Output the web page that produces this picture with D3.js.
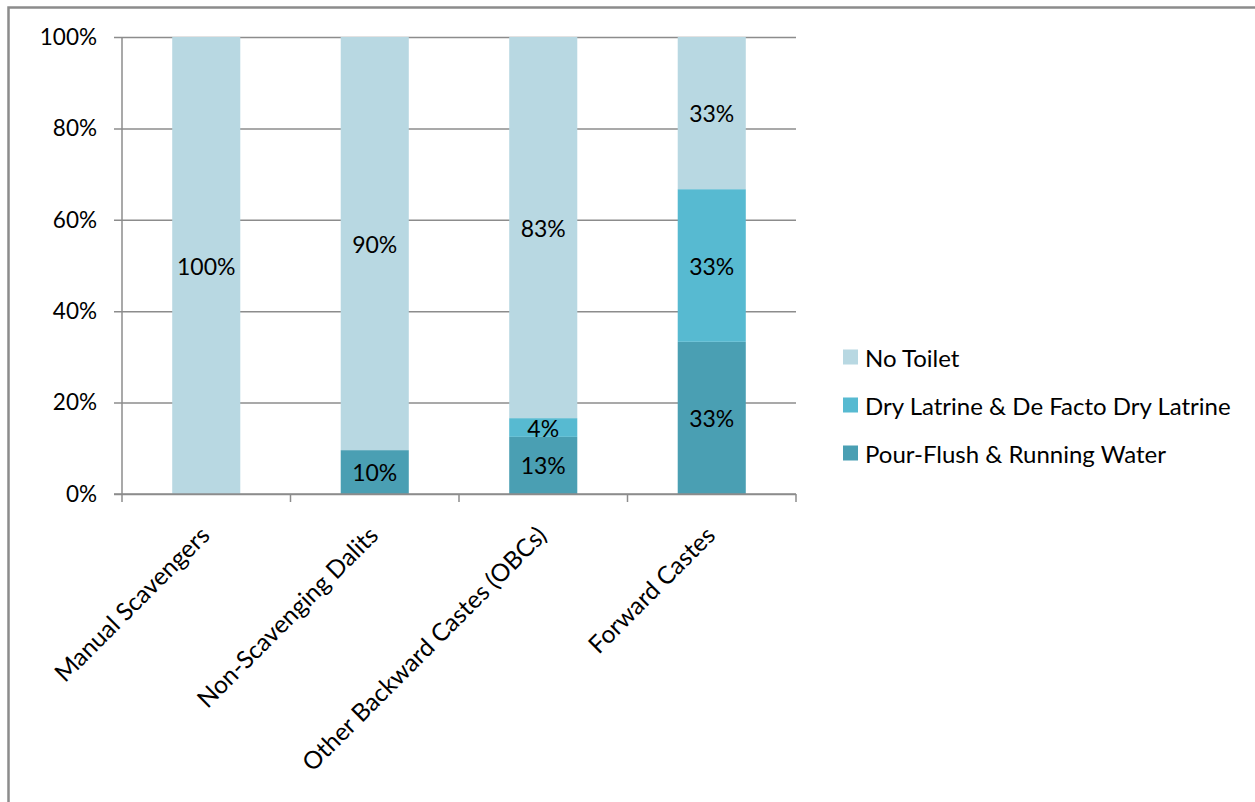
<!DOCTYPE html>
<html lang="en">
<head>
<meta charset="UTF-8">
<title>Toilet access by caste group</title>
<script src="https://d3js.org/d3.v7.min.js"></script>
<style>
  body { margin: 0; background: #fff; }
  text { font-family: Lato, "Open Sans", sans-serif; fill: #000; }
</style>
</head>
<body>
<div id="chart"></div>
<script>
// categories along the x axis
const categories = ["Manual Scavengers", "Non-Scavenging Dalits", "Other Backward Castes (OBCs)", "Forward Castes"];
// share of households, stacked bottom to top
const pourFlush = [0, 0.096, 0.125, 0.333];
const dryLatrine = [0, 0, 0.041, 0.334];
const noToilet = [1.0, 0.904, 0.834, 0.333];
const seriesNames = ["Pour-Flush & Running Water", "Dry Latrine & De Facto Dry Latrine", "No Toilet"];
const seriesColors = ["#4a9fb3", "#57bad1", "#b8d8e2"];
const yTicks = [0, 0.2, 0.4, 0.6, 0.8, 1.0];

const W = 1255, H = 802;
const margin = { top: 37, left: 122 };
const width = 674, height = 457;

const svg = d3.select("#chart").append("svg")
    .attr("width", W).attr("height", H);

// outer frame (runs off the right and bottom edges)
svg.append("rect")
    .attr("x", 8.5).attr("y", 7.5)
    .attr("width", W + 20).attr("height", H + 20)
    .attr("fill", "none").attr("stroke", "#8c8c8c").attr("stroke-width", 2.5);

const g = svg.append("g").attr("transform", "translate(" + margin.left + "," + margin.top + ")");

const x = d3.scaleBand().domain(categories).range([0, width])
    .paddingInner(0.596).paddingOuter(0.298);
const y = d3.scaleLinear().domain([0, 1]).range([height, 0]);

// y axis + gridlines
const yAxis = g.append("g")
    .call(d3.axisLeft(y).tickValues(yTicks).tickFormat(d3.format(".0%")).tickSize(8).tickPadding(17));
yAxis.select(".domain").attr("stroke", "#8c8c8c").attr("stroke-width", 1.5).attr("d", "M0,0V" + height);
yAxis.selectAll(".tick line").attr("x1", width).attr("stroke", "#8c8c8c").attr("stroke-width", 1.5);
yAxis.selectAll(".tick text").style("font-size", "22.5px");

// stacked data
const rows = categories.map((c, i) => ({ cat: c, v: [pourFlush[i], dryLatrine[i], noToilet[i]] }));
const stack = d3.stack().keys([0, 1, 2]).value((d, k) => d.v[k]);
const layers = stack(rows);

const layerG = g.selectAll("g.layer").data(layers).join("g")
    .attr("class", "layer").attr("fill", (d, i) => seriesColors[i]);

layerG.selectAll("rect").data(d => d).join("rect")
    .attr("x", d => x(d.data.cat))
    .attr("width", x.bandwidth())
    .attr("y", d => y(d[1]))
    .attr("height", d => y(d[0]) - y(d[1]));

// segment labels
layerG.selectAll("text").data(d => d.filter(s => s[1] - s[0] > 0)).join("text")
    .attr("x", d => x(d.data.cat) + x.bandwidth() / 2)
    .attr("y", d => y((d[0] + d[1]) / 2))
    .attr("text-anchor", "middle")
    .attr("dominant-baseline", "central")
    .style("font-size", "23px")
    .text(d => Math.round((d[1] - d[0]) * 100) + "%");

// x axis
const xAxis = g.append("g").attr("transform", "translate(0," + height + ")")
    .call(d3.axisBottom(x).tickSize(0).tickPadding(0));
xAxis.select(".domain").remove();
xAxis.selectAll(".tick text")
    .attr("y", 0).attr("dy", 0)
    .attr("text-anchor", "end")
    .attr("transform", "translate(5,43) rotate(-45)")
    .style("font-size", "24.5px");

// axis line with ticks at band boundaries
const step = x.step();
const bounds = d3.range(categories.length + 1).map(i => i * step);
const xLine = g.append("g").attr("transform", "translate(0," + height + ")");
xLine.append("line").attr("x1", -8).attr("x2", width)
    .attr("stroke", "#8c8c8c").attr("stroke-width", 1.5);
xLine.selectAll("line.b").data(bounds).join("line").attr("class", "b")
    .attr("x1", d => d).attr("x2", d => d).attr("y1", 0).attr("y2", 8)
    .attr("stroke", "#8c8c8c").attr("stroke-width", 1.5);

// legend
const legendNames = seriesNames.slice().reverse();
const legendColors = seriesColors.slice().reverse();
const legend = svg.append("g").attr("transform", "translate(843,357)");
const item = legend.selectAll("g").data(legendNames).join("g")
    .attr("transform", (d, i) => "translate(0," + (i * 48) + ")");
item.append("rect").attr("x", 0).attr("y", -7.5).attr("width", 15).attr("height", 15)
    .attr("fill", (d, i) => legendColors[i]);
item.append("text").attr("x", 22).attr("y", 0)
    .attr("dominant-baseline", "central")
    .style("font-size", "24px")
    .text(d => d);
</script>
</body>
</html>
